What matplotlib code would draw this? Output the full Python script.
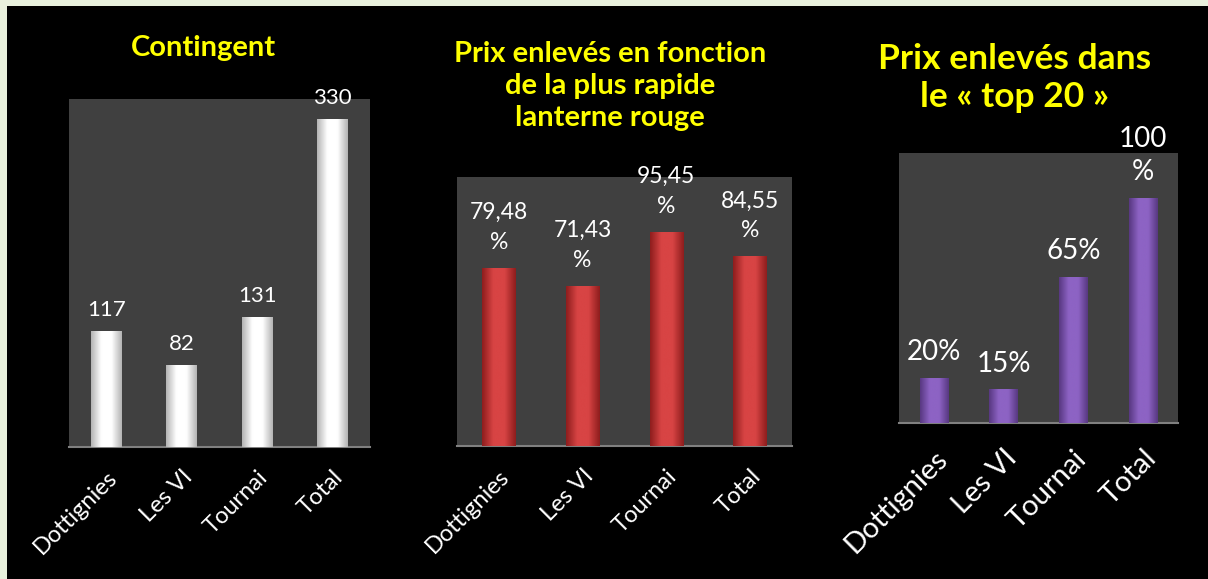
import numpy as np
import matplotlib
matplotlib.use("Agg")
import matplotlib.pyplot as plt
from matplotlib.colors import LinearSegmentedColormap

plt.rcParams['font.family'] = ['Lato', 'DejaVu Sans']

# data
villes = ["Dottignies", "Les VI", "Tournai", "Total"]
contingent = [117, 82, 131, 330]
contingent_lbl = ["117", "82", "131", "330"]
prix_lanterne = [79.48, 71.43, 95.45, 84.55]
prix_lanterne_lbl = ["79,48\n%", "71,43\n%", "95,45\n%", "84,55\n%"]
prix_top20 = [20, 15, 65, 100]
prix_top20_lbl = ["20%", "15%", "65%", "100\n%"]

W, H = 1208, 579
fig = plt.figure(figsize=(W / 100, H / 100), dpi=100)
fig.patch.set_facecolor('#e9f1dd')

# fond noir (bordure claire seulement en haut et a gauche)
bg = fig.add_axes([7 / W, 0, 1 - 7 / W, 1 - 6 / H])
bg.set_facecolor('black')
bg.set_xticks([])
bg.set_yticks([])
for s in bg.spines.values():
    s.set_visible(False)


def px_axes(x0, y0, x1, y1):
    return fig.add_axes([x0 / W, 1 - y1 / H, (x1 - x0) / W, (y1 - y0) / H])


def panneau(rect, vals, lbls, ymax, c_mid, c_edge, width, fs_lbl, fs_tick,
            off, pad, ls):
    ax = px_axes(*rect)
    ax.set_facecolor('#404040')
    x = np.arange(len(vals))
    bars = ax.bar(x, vals, width=width, color=c_mid, edgecolor='none', zorder=2)
    cmap = LinearSegmentedColormap.from_list('g', [c_edge, c_mid, c_mid, c_edge])
    grad = np.linspace(0, 1, 64).reshape(1, -1)
    for b in bars:
        bx, bw, bh = b.get_x(), b.get_width(), b.get_height()
        im = ax.imshow(grad, cmap=cmap, extent=[bx, bx + bw, 0, bh],
                       aspect='auto', zorder=3, interpolation='bicubic')
        im.set_clip_path(b)
    for xi, v, t in zip(x, vals, lbls):
        ax.annotate(t, (xi, v), xytext=(0, off), textcoords='offset points',
                    ha='center', va='bottom', color='white', fontsize=fs_lbl,
                    linespacing=ls, zorder=4)
    ax.set_xlim(-0.5, len(vals) - 0.5)
    ax.set_ylim(0, ymax)
    ax.set_yticks([])
    ax.set_xticks(x)
    ax.set_xticklabels(villes, rotation=45, ha='right', rotation_mode='anchor',
                       color='white', fontsize=fs_tick)
    ax.tick_params(axis='x', length=0, pad=pad)
    for k in ['top', 'left', 'right']:
        ax.spines[k].set_visible(False)
    ax.spines['bottom'].set_color('#808080')
    ax.spines['bottom'].set_linewidth(1.5)
    return ax


ax1 = panneau((69, 99, 370, 447), contingent, contingent_lbl, 350,
              '#ffffff', '#b4b4b4', 0.41, 16, 17, 8, 14, 1.2)
ax2 = panneau((457, 177, 792, 446), prix_lanterne, prix_lanterne_lbl, 120,
              '#d84444', '#8e1d1d', 0.40, 16.5, 17, 11, 14, 1.5)
ax3 = panneau((899, 153, 1178, 423), prix_top20, prix_top20_lbl, 120,
              '#8d63c4', '#583882', 0.41, 20, 21, 9, 16, 1.35)

fig.text(203 / W, 1 - 48 / H, "Contingent", color='#ffff00', fontsize=21,
         fontweight='bold', ha='center', va='center')
fig.text(610 / W, 1 - 86 / H,
         "Prix enlevés en fonction\nde la plus rapide\nlanterne rouge",
         color='#ffff00', fontsize=21, fontweight='bold', ha='center',
         va='center', linespacing=1.3)
fig.text(1015 / W, 1 - 78 / H, "Prix enlevés dans\nle « top 20 »",
         color='#ffff00', fontsize=25.5, fontweight='bold', ha='center',
         va='center', linespacing=1.25)

fig.savefig('out.png', dpi=100, facecolor=fig.get_facecolor())
